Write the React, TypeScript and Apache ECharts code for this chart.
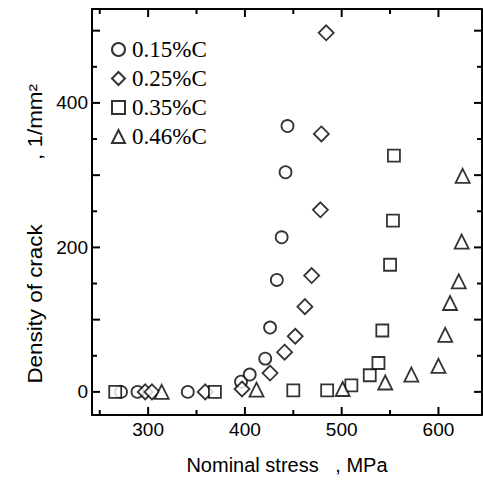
import React, { useEffect, useRef } from "react";
import * as echarts from "echarts";

const seriesNames = ["0.15%C", "0.25%C", "0.35%C", "0.46%C"];
const symbols = ["circle", "diamond", "rect", "triangle"];
const symbolSizes = [12, 15, 12, 14];

const c015: number[][] = [
  [272, 0], [289, 0], [341, 0], [396, 14], [405, 24], [421, 46], [426, 89],
  [433, 155], [438, 214], [442, 304], [444, 368],
];
const c025: number[][] = [
  [297, 0], [304, 0], [359, 0], [397, 4], [426, 26], [441, 55], [452, 77],
  [462, 118], [469, 161], [478, 252], [479, 357], [484, 497],
];
const c035: number[][] = [
  [266, 0], [369, 0], [450, 2], [485, 2], [510, 9], [529, 23], [538, 40],
  [542, 85], [550, 176], [553, 237], [554, 327],
];
const c046: number[][] = [
  [314, 0], [412, 3], [501, 4], [545, 13], [572, 24], [600, 36], [607, 79],
  [612, 123], [621, 153], [624, 208], [625, 299],
];
const allData = [c015, c025, c035, c046];

const xMajor = [300, 400, 500, 600];
const xMinor = [250, 350, 450, 550];
const yMajor = [0, 100, 200, 300, 400, 500];
const yMinor = [50, 150, 250, 350, 450];
const yLabels = [0, 200, 400];

const X_MIN = 242;
const X_MAX = 645;
const Y_MIN = -32;
const Y_MAX = 530;

const sans = "'Liberation Sans', Arial, sans-serif";
const serif = "'Liberation Serif', 'Times New Roman', serif";

export default function App() {
  const ref = useRef<HTMLDivElement>(null);
  useEffect(() => {
    if (!ref.current) return;
    const chart = echarts.init(ref.current, null, { renderer: "svg" });
    const axisLine = () => ({ show: true, onZero: false, lineStyle: { color: "#000", width: 2 } });
    const tickStyle = () => ({ stroke: "#000", lineWidth: 2 });

    const xTickData = [
      ...xMajor.map((v) => [v, Y_MIN, 1]),
      ...xMinor.map((v) => [v, Y_MIN, 0]),
    ];
    const yTickData = [
      ...yMajor.map((v) => [X_MIN, v, 1]),
      ...yMinor.map((v) => [X_MIN, v, 0]),
    ];

    chart.setOption({
      animation: false,
      backgroundColor: "#fff",
      grid: { left: 92, right: 1, top: 9, bottom: 65 },
      xAxis: [
        {
          type: "value",
          min: X_MIN,
          max: X_MAX,
          position: "bottom",
          axisLine: axisLine(),
          axisTick: { show: false },
          axisLabel: { show: true, customValues: xMajor, color: "#000", fontSize: 19, fontFamily: sans, margin: 5 },
          splitLine: { show: false },
          name: "Nominal stress   , MPa",
          nameLocation: "middle",
          nameGap: 40,
          nameTextStyle: { color: "#000", fontSize: 20, fontFamily: sans },
        },
        {
          type: "value",
          min: X_MIN,
          max: X_MAX,
          position: "top",
          axisLine: axisLine(),
          axisTick: { show: false },
          axisLabel: { show: false },
          splitLine: { show: false },
        },
      ],
      yAxis: [
        {
          type: "value",
          min: Y_MIN,
          max: Y_MAX,
          position: "left",
          axisLine: axisLine(),
          axisTick: { show: false },
          axisLabel: { show: true, customValues: yLabels, color: "#000", fontSize: 19, fontFamily: sans, margin: 4 },
          splitLine: { show: false },
        },
        {
          type: "value",
          min: Y_MIN,
          max: Y_MAX,
          position: "right",
          axisLine: axisLine(),
          axisTick: { show: false },
          axisLabel: { show: false },
          splitLine: { show: false },
        },
      ],
      legend: {
        orient: "vertical",
        left: 106,
        top: 33,
        itemWidth: 13,
        itemHeight: 13,
        itemGap: 6,
        data: seriesNames,
        textStyle: { color: "#000", fontSize: 23, fontFamily: serif, lineHeight: 22, padding: [0, 0, 0, 2] },
      },
      graphic: [
        {
          type: "text",
          x: 35,
          y: 304,
          rotation: Math.PI / 2,
          scaleX: 1.12,
          style: {
            text: "Density of crack",
            fill: "#000",
            font: `20px ${sans}`,
            align: "center",
            verticalAlign: "middle",
          },
        },
        {
          type: "text",
          x: 35,
          y: 122,
          rotation: Math.PI / 2,
          scaleX: 1.12,
          style: {
            text: ", 1/mm²",
            fill: "#000",
            font: `20px ${sans}`,
            align: "center",
            verticalAlign: "middle",
          },
        },
      ],
      series: [
        {
          name: "xTicks",
          type: "custom",
          silent: true,
          xAxisIndex: 0,
          yAxisIndex: 0,
          data: xTickData,
          renderItem: (params: any, api: any) => {
            const cs = params.coordSys;
            const len = api.value(2) === 1 ? 8 : 5;
            const px = api.coord([api.value(0), api.value(1)])[0];
            const bottom = cs.y + cs.height;
            return {
              type: "group",
              children: [
                { type: "line", shape: { x1: px, y1: bottom, x2: px, y2: bottom - len }, style: tickStyle() },
                { type: "line", shape: { x1: px, y1: cs.y, x2: px, y2: cs.y + len }, style: tickStyle() },
              ],
            };
          },
        },
        {
          name: "yTicks",
          type: "custom",
          silent: true,
          xAxisIndex: 0,
          yAxisIndex: 0,
          data: yTickData,
          renderItem: (params: any, api: any) => {
            const cs = params.coordSys;
            const len = api.value(2) === 1 ? 8 : 5;
            const py = api.coord([api.value(0), api.value(1)])[1];
            const right = cs.x + cs.width;
            return {
              type: "group",
              children: [
                { type: "line", shape: { x1: cs.x, y1: py, x2: cs.x + len, y2: py }, style: tickStyle() },
                { type: "line", shape: { x1: right, y1: py, x2: right - len, y2: py }, style: tickStyle() },
              ],
            };
          },
        },
        ...allData.map((d, i) => ({
          name: seriesNames[i],
          type: "scatter",
          xAxisIndex: 0,
          yAxisIndex: 0,
          symbol: symbols[i],
          symbolSize: symbolSizes[i],
          itemStyle: { color: "#fff", borderColor: "#000", borderWidth: 1.8 },
          data: d,
        })),
      ],
    });
    return () => chart.dispose();
  }, []);
  return (
    <div
      ref={ref}
      style={{ position: "fixed", left: 0, top: 0, width: 483, height: 480 }}
    />
  );
}
